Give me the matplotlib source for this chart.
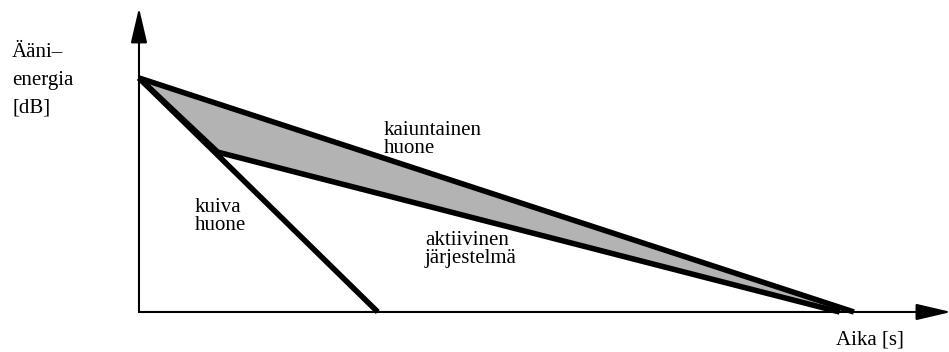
import matplotlib.pyplot as plt

# aika [s] ja äänienergia [dB]
kaiuntainen_t = [0.0, 10.0]
kaiuntainen_e = [60.0, 0.0]
aktiivinen_t = [0.0, 1.1, 9.8]
aktiivinen_e = [60.0, 41.0, 0.0]
kuiva_t = [0.0, 3.34]
kuiva_e = [60.0, 0.0]

plt.rcParams['font.family'] = ['Liberation Serif', 'DejaVu Serif']

W, H = 949, 352
fig = plt.figure(figsize=(W / 100, H / 100), dpi=100)
ax = fig.add_axes([0, 0, 1, 1])
ax.set_xlim(-1.944, 11.33)
ax.set_ylim(-10.26, 80.0)
ax.axis('off')

# akselit nuolineen
nuoli = dict(arrowstyle='-|>,head_length=0.6,head_width=0.14', lw=1.5,
             color='black', mutation_scale=36, shrinkA=0, shrinkB=0)
ax.annotate('', xy=(0, 78.0), xytext=(0, 0), arrowprops=nuoli,
            annotation_clip=False)
ax.annotate('', xy=(11.36, 0), xytext=(0, 0), arrowprops=nuoli,
            annotation_clip=False)

# harmaa alue kaiuntaisen ja aktiivisen välissä
alue_t = kaiuntainen_t + aktiivinen_t[::-1]
alue_e = kaiuntainen_e + aktiivinen_e[::-1]
ax.fill(alue_t, alue_e, color='#b3b3b3', lw=0)

ax.plot(kaiuntainen_t, kaiuntainen_e, color='black', lw=4, solid_capstyle='butt')
ax.plot(aktiivinen_t, aktiivinen_e, color='black', lw=4, solid_capstyle='butt',
        solid_joinstyle='miter')
ax.plot(kuiva_t, kuiva_e, color='black', lw=4, solid_capstyle='butt')

fs = 15


def teksti(x, y, s):
    # x, y pikseleinä vasemmasta yläkulmasta, y = peruslinja
    fig.text(x / W, 1 - y / H, s, fontsize=fs, ha='left', va='baseline')


teksti(12, 57, 'Ääni–')
teksti(12, 85, 'energia')
teksti(12, 113, '[dB]')
teksti(384, 135, 'kaiuntainen')
teksti(384, 153, 'huone')
teksti(195, 212, 'kuiva')
teksti(195, 230, 'huone')
teksti(425, 245, 'aktiivinen')
teksti(425, 263, 'järjestelmä')
teksti(836, 345, 'Aika [s]')

fig.savefig('out.png', dpi=100)
